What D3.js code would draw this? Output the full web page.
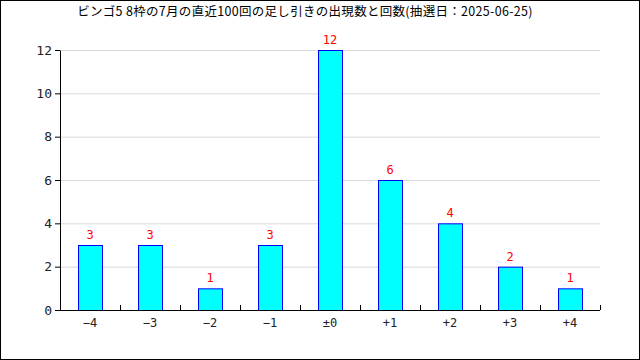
<!DOCTYPE html>
<html lang="ja">
<head>
<meta charset="utf-8">
<script src="https://cdn.jsdelivr.net/npm/d3@7"></script>
<style>
  body { margin: 0; background: #fff; }
  svg { display: block; }
  text { font-family: "DejaVu Sans Mono", "Noto Sans CJK JP", monospace; }
</style>
</head>
<body>
<svg width="640" height="360"></svg>
<script>
// data
var titleText = "ビンゴ5 8枠の7月の直近100回の足し引きの出現数と回数(抽選日：2025-06-25)";
var categories = ["\u22124", "\u22123", "\u22122", "\u22121", "\u00b10", "+1", "+2", "+3", "+4"];
var counts = [3, 3, 1, 3, 12, 6, 4, 2, 1];
var yTicks = [0, 2, 4, 6, 8, 10, 12];

var svg = d3.select("svg"),
    margin = { top: 50, right: 40, bottom: 50, left: 60 },
    width = +svg.attr("width") - margin.left - margin.right,
    height = +svg.attr("height") - margin.top - margin.bottom;

// frame
svg.append("rect")
    .attr("x", 0.5).attr("y", 0.5)
    .attr("width", 639).attr("height", 359)
    .attr("fill", "#fff").attr("stroke", "#000");

svg.append("text")
    .attr("x", 305).attr("y", 16)
    .attr("text-anchor", "middle")
    .style("font-family", "'Noto Sans CJK JP', sans-serif")
    .style("font-size", "12.5px")
    .style("letter-spacing", "0.3px")
    .text(titleText);

var x = d3.scaleBand().domain(categories).range([0, width]),
    y = d3.scaleLinear().domain([0, 12]).range([height, 0]);

var g = svg.append("g")
    .attr("transform", "translate(" + margin.left + "," + margin.top + ")");

// grid
g.selectAll(".grid")
    .data(yTicks.filter(function(d) { return d > 0; }))
    .enter().append("line")
    .attr("x1", 0).attr("x2", width)
    .attr("y1", function(d) { return y(d) + 0.5; })
    .attr("y2", function(d) { return y(d) + 0.5; })
    .attr("stroke", "#d9d9d9");

// y axis
var yAxis = g.append("g")
    .call(d3.axisLeft(y).tickValues(yTicks).tickSize(5).tickSizeOuter(0));
yAxis.select(".domain").attr("stroke", "#000");
yAxis.selectAll("text").style("font-size", "13px").attr("fill", "#222");

// bars
g.selectAll(".bar")
    .data(counts)
    .enter().append("rect")
    .attr("class", "bar")
    .attr("x", function(d, i) { return x(categories[i]) + x.bandwidth() * 0.3 + 0.5; })
    .attr("y", function(d) { return y(d) + 0.5; })
    .attr("width", x.bandwidth() * 0.4)
    .attr("height", function(d) { return height - y(d); })
    .attr("fill", "#00ffff")
    .attr("stroke", "#0000ff");

// value labels
g.selectAll(".val")
    .data(counts)
    .enter().append("text")
    .attr("x", function(d, i) { return x(categories[i]) + x.bandwidth() / 2; })
    .attr("y", function(d) { return y(d) - 6; })
    .attr("text-anchor", "middle")
    .attr("fill", "#ff0000")
    .style("font-size", "12px")
    .text(function(d) { return d; });

// x axis line and inner ticks at band edges
g.append("line")
    .attr("x1", 0).attr("x2", width)
    .attr("y1", height + 0.5).attr("y2", height + 0.5)
    .attr("stroke", "#000");
g.selectAll(".xtick")
    .data(categories.concat([null]))
    .enter().append("line")
    .attr("x1", function(d, i) { return i * x.step() + 0.5; })
    .attr("x2", function(d, i) { return i * x.step() + 0.5; })
    .attr("y1", height).attr("y2", height - 5)
    .attr("stroke", "#000");
g.selectAll(".xlab")
    .data(categories)
    .enter().append("text")
    .attr("x", function(d) { return x(d) + x.bandwidth() / 2; })
    .attr("y", height + 17)
    .attr("text-anchor", "middle")
    .attr("fill", "#222")
    .style("font-size", "12px")
    .text(function(d) { return d; });
</script>
</body>
</html>
